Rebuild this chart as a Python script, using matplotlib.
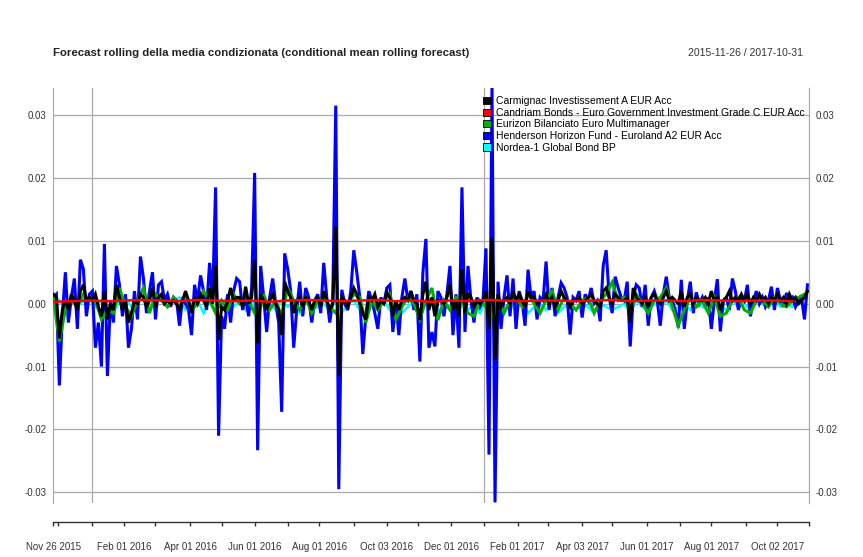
import numpy as np
import pandas as pd
import matplotlib
matplotlib.use("Agg")
import matplotlib.pyplot as plt
from matplotlib.patches import Patch

plt.rcParams['font.family'] = ['Liberation Sans', 'DejaVu Sans']

# Giorni di borsa del periodo (osservazioni equispaziate, stile xts)
date = pd.bdate_range("2015-11-26", "2017-10-31")

nomi = [
    "Carmignac Investissement A EUR Acc",
    "Candriam Bonds - Euro Government Investment Grade C EUR Acc",
    "Eurizon Bilanciato Euro Multimanager",
    "Henderson Horizon Fund - Euroland A2 EUR Acc",
    "Nordea-1 Global Bond BP",
]
colori = ["black", "red", "#00B000", "blue", "cyan"]

# valori in millesimi (x 1e-3)
# Henderson: un valore ogni 2 giorni
henderson = [
    1.0, 1.5, -13.0, -2.0, 5.0, -3.0, 1.0, 4.0, -4.0, 7.0,
    5.5, -2.0, 1.5, 2.0, -7.0, -3.0, -10.0, 9.5, -11.5, 0.5,
    -3.0, 6.0, 3.0, -2.0, 1.5, -7.0, -4.0, 2.0, -2.5, 7.5,
    4.0, -1.5, 2.0, 5.0, -2.5, 3.0, 3.5, 0.5, 1.5, -0.5,
    1.0, 0.5, -3.5, 1.0, 0.0, -1.0, -5.0, 3.0, 0.5, 4.5,
    2.0, -1.0, 6.5, 0.5, 18.5, -21.0, -2.0, -4.0, 1.5, -3.0,
    2.0, 4.0, 3.5, -1.0, 1.0, -2.0, 2.5, 20.8, -23.3, 6.0,
    1.0, -4.5, 1.0, 4.0, 0.0, -3.0, -17.2, 8.0, 5.5, 2.0,
    -7.0, -1.0, 3.5, -2.0, 2.5, 1.0, -3.0, 0.5, 1.5, -1.5,
    6.5, 1.0, -3.0, 0.5, 31.5, -29.5, 2.2, 0.0, -1.0, 2.0,
    8.5, 5.0, 1.0, -8.0, -2.0, 2.0, 0.5, -1.5, -4.0, 1.0,
    0.0, 2.5, 3.0, -4.5, 0.5, -5.0, 1.0, 4.0, 0.5, 2.0,
    -1.0, 1.5, -9.2, 5.0, 10.3, -7.0, -4.5, -6.8, 2.0, 1.0,
    -2.0, 1.5, 6.0, -5.0, 1.5, -7.0, 18.5, -4.5, 6.0, 0.5,
    -3.0, 1.0, -0.5, 0.5, 8.8, -24.0, 34.3, -31.6, 3.5, -4.0,
    1.0, 4.5, -2.0, 4.0, -4.0, 2.0, 0.5, -3.5, 5.4, 1.0,
    2.0, -2.5, 1.0, 0.5, 6.7, -1.0, 2.5, -2.0, 1.0, 3.3,
    2.5, 1.0, -4.9, 1.0, 0.5, 2.0, -2.2, 1.5, 0.5, 2.5,
    0.0, 0.5, -2.8, 6.0, 8.5, 1.0, -1.5, 4.3, 2.5, 1.0,
    0.5, 3.5, -6.8, 1.0, 3.0, 2.5, -0.5, 3.0, -3.5, 1.0,
    2.0, 0.5, -3.5, 1.5, 4.3, 1.0, 0.5, -1.0, -3.8, 3.8,
    -4.0, 0.5, 3.5, -1.5, 1.8, 0.0, 1.0, -0.5, 1.0, -4.0,
    0.5, 3.9, -4.4, 0.5, 1.0, -1.0, 4.0, 2.0, -1.0, 1.0,
    0.5, 3.0, -2.0, 0.5, 2.0, 0.0, 1.0, -0.5, 0.5, 2.7,
    -1.0, 2.5, 0.5, -0.5, 1.7, 0.5, 1.0, -0.5, 0.5, 1.0,
    -2.5, 3.0,
]

# Carmignac: un valore ogni 2 giorni
carmignac = [
    1.5, 1.0, -5.5, -1.0, 0.5, -1.0, 1.5, 0.5, -1.0, 2.0,
    3.0, 0.5, 1.0, 0.5, 1.5, -0.5, -2.0, 2.0, -2.5, 0.0,
    -1.0, 3.0, 1.0, -1.0, 0.5, -3.0, -1.5, 0.5, 0.0, 1.5,
    1.0, -0.5, 0.5, 2.5, -0.5, 1.0, 1.5, 0.0, 0.5, 0.0,
    0.5, 0.0, -1.0, 0.5, 2.0, 0.5, -1.5, 1.0, 0.0, 1.5,
    0.5, -0.5, 2.5, 0.0, 6.0, -5.8, -0.5, -1.0, 0.5, 2.5,
    0.5, 1.0, 1.0, -0.5, 2.7, 0.0, 1.0, 7.0, -6.3, 1.5,
    0.5, -1.0, 0.5, 1.5, 0.0, -1.0, -5.0, 3.5, 2.0, 1.0,
    -1.5, 0.5, 1.0, -0.5, 1.0, 0.5, -1.0, 0.5, 1.0, -0.5,
    2.0, 0.5, -1.0, 0.0, 12.2, -11.5, 1.0, 0.5, -0.5, 1.0,
    2.5, 1.5, 0.0, -1.5, -2.5, 1.0, 0.5, 1.5, -0.5, 0.5,
    0.0, 1.8, 1.0, -2.0, 0.5, -1.0, 0.5, 1.0, 0.5, 2.0,
    0.5, 0.0, -2.6, 1.5, 3.5, -1.0, 1.0, -2.0, 0.5, 0.5,
    0.0, 1.0, 3.0, -1.0, 0.5, -2.0, 5.5, -1.5, 1.5, 1.0,
    -0.5, 0.5, 0.0, 0.5, 2.0, -4.0, 10.5, -9.0, 1.5, -0.5,
    0.5, 1.0, 0.0, 2.0, 0.5, 1.5, 0.5, -0.5, 2.0, 1.0,
    1.0, 0.0, 0.5, 0.5, 1.5, 0.0, 1.0, -0.5, 0.5, 2.0,
    1.0, 0.5, -0.5, 0.5, 0.5, 1.0, 0.0, 0.5, 1.0, 1.5,
    0.5, 0.0, -0.5, 2.0, 2.5, 1.0, 0.0, 1.5, 1.0, 0.5,
    0.5, 1.0, -3.0, 2.5, 1.0, 0.5, 0.0, 1.0, -0.5, 1.0,
    1.5, 0.5, 0.0, 1.0, 2.0, 0.5, 1.0, 0.5, 0.0, 2.0,
    -0.5, 1.0, 1.5, 0.0, 1.0, 0.5, 0.5, 1.0, 0.0, 2.0,
    0.5, 1.0, -1.0, 0.5, 1.0, 2.0, 0.5, 1.0, 0.5, 1.5,
    0.5, 1.5, 0.0, 1.0, 0.5, 1.5, 0.5, 1.0, 0.0, 1.0,
    0.5, 1.5, 0.5, 1.0, 0.0, 1.5, 0.5, 1.0, 0.0, 0.5,
    1.0, 2.0,
]

# Eurizon: un valore ogni 4 giorni
eurizon = [
    1.0, -6.0, -1.0, 0.5, -0.5, 1.5, 0.5, 0.5, -2.5, -1.0,
    -1.5, 2.5, -0.5, -2.0, 0.5, 2.5, -1.5, 1.5, 0.5, -0.5,
    1.0, -0.5, 1.5, -1.0, 0.0, 2.0, 0.5, -1.5, 0.5, -1.0,
    1.5, 0.0, 1.0, -0.5, -2.5, 1.5, -1.0, 0.5, -2.0, 2.5,
    0.5, -1.0, 1.0, -1.5, 0.5, 1.0, -0.5, -1.5, 1.0, 0.0,
    1.5, 1.0, -3.0, 0.5, -1.0, 0.5, 1.5, -2.5, -0.5, 1.0,
    0.0, -2.5, 0.5, 2.5, -2.6, 0.5, -1.0, 1.0, 0.5, -1.5,
    -2.0, 0.5, -0.5, -2.0, 1.0, -1.5, 0.5, 1.0, -0.5, 1.5,
    0.0, -1.5, 0.5, 2.0, -1.0, 1.0, 0.0, -1.0, 0.5, 1.0,
    -1.5, 0.5, 1.5, 3.4, 0.5, 1.0, -1.0, 1.5, 0.0, -1.5,
    0.5, 1.0, 2.5, -0.5, -3.5, -1.0, 1.0, -0.5, 0.5, -1.5,
    1.0, -2.0, -1.5, 0.5, 1.0, -1.0, -1.5, 0.5, 0.5, -0.5,
    1.0, 0.0, -0.5, 0.5, 1.0, 1.5,
]

# Nordea: un valore ogni 4 giorni
nordea = [
    1.5, 0.5, -1.0, 1.0, -0.5, 0.5, 1.0, -0.5, 0.5, -1.0,
    -1.5, 0.5, 1.0, -0.5, 0.0, 1.0, -1.0, 0.5, 1.5, -0.5,
    0.5, 1.0, -1.0, 0.0, 0.5, -1.5, 0.5, -1.0, 0.0, 1.0,
    -0.5, 0.5, -1.0, 0.5, -1.5, 0.5, 0.0, -1.0, 0.5, -0.5,
    0.0, -1.5, 0.5, -1.0, -0.5, 0.0, -1.0, 0.5, -1.5, 0.0,
    0.5, -1.0, -1.5, 0.0, -0.5, 0.5, -1.0, 0.0, -1.5, -0.5,
    0.5, -1.0, 0.0, 1.0, -1.5, 0.0, -0.5, 1.0, -0.5, -1.0,
    0.0, -1.5, 0.5, -2.0, -0.5, -1.5, 0.0, -1.0, 0.5, -1.5,
    -0.5, 0.0, -1.0, 0.5, -1.5, -0.5, 0.0, -1.0, 0.0, -0.5,
    -1.5, 0.0, -0.5, -1.0, -0.5, 0.0, -1.5, 0.5, -0.5, -1.0,
    0.0, -0.5, 0.5, -1.0, -0.5, 0.0, -1.0, 0.5, -0.5, -1.0,
    0.0, -0.5, -1.0, 0.5, -0.5, 0.0, -1.0, 0.5, 0.0, -0.5,
    0.5, -0.5, 0.0, -0.5, 0.5, 0.0,
]

# Candriam: un valore ogni 12 giorni
candriam = [
    0.3, 0.4, 0.5, 0.4, 0.5, 0.6, 0.5, 0.4, 0.6, 0.5,
    0.4, 0.5, 0.3, 0.5, 0.6, 0.5, 0.4, 0.5, 0.6, 0.4,
    0.5, 0.3, 0.5, 0.4, 0.6, 0.5, 0.4, 0.5, 0.5, 0.4,
    0.5, 0.6, 0.4, 0.5, 0.5, 0.4, 0.6, 0.5, 0.4, 0.5,
    0.5, 0.4,
]

pos = np.arange(len(date))
serie = [
    (carmignac, 2, 2.2, 4),
    (candriam, 12, 1.8, 5),
    (eurizon, 4, 2.2, 3),
    (henderson, 2, 2.2, 2),
    (nordea, 4, 1.8, 1),
]

grigio = "#AAAAAA"
testo = "#333333"

fig = plt.figure(figsize=(8.63, 5.57), dpi=100)
ax = fig.add_axes([0.0618, 0.0969, 0.8756, 0.7451])

for (vals, passo, lw, z), col in zip(serie, colori):
    v = np.array(vals) / 1000
    x = pos[::passo][:len(v)]
    ax.plot(x, v, color=col, lw=lw, zorder=z, solid_joinstyle="miter")

ax.set_xlim(0, len(date) - 1)
ax.set_ylim(-0.0317, 0.0343)

# griglia orizzontale e tacche y (sinistra e destra)
yt = [-0.03, -0.02, -0.01, 0.0, 0.01, 0.02, 0.03]
ax.set_yticks(yt)
ax.set_yticklabels([f"{t:.2f}" for t in yt])
ax.tick_params(axis="y", length=0, labelsize=7, labelcolor=testo, pad=5,
               labelright=True)
for t in yt:
    ax.axhline(t, color=grigio, lw=0.9, zorder=0)

# tacche mensili, etichette ogni due mesi
inizio_mese = [0] + [i for i in range(1, len(date))
                     if date[i].month != date[i - 1].month]
etich = ["Nov 26 2015", "Feb 01 2016", "Apr 01 2016", "Jun 01 2016",
         "Aug 01 2016", "Oct 03 2016", "Dec 01 2016", "Feb 01 2017",
         "Apr 03 2017", "Jun 01 2017", "Aug 01 2017", "Oct 02 2017"]
tick_pos = inizio_mese + [len(date) - 1]
tick_lab = [date[i].strftime("%b %d %Y") if date[i].strftime("%b %d %Y") in etich
            else "" for i in inizio_mese] + [""]
ax.set_xticks(tick_pos)
ax.set_xticklabels(tick_lab)
ax.tick_params(axis="x", direction="out", length=3, width=1, color=testo,
               labelsize=7, labelcolor=testo, pad=11)

# linee verticali a inizio anno
for i in inizio_mese:
    if date[i].month == 1:
        ax.axvline(i, color=grigio, lw=0.9, zorder=0)

ax.spines["top"].set_visible(False)
for s in ["left", "right"]:
    ax.spines[s].set_color(grigio)
    ax.spines[s].set_linewidth(0.9)
ax.spines["bottom"].set_position(("outward", 14))
ax.spines["bottom"].set_color(testo)
ax.spines["bottom"].set_linewidth(1.0)

fig.text(0.0618, 0.904, "Forecast rolling della media condizionata (conditional mean rolling forecast)",
         fontsize=8.2, fontweight="bold", color="#222222", va="center", ha="left")
fig.text(0.930, 0.904, "2015-11-26 / 2017-10-31", fontsize=7.5, color=testo,
         va="center", ha="right")

maniglie = [Patch(facecolor=c, edgecolor="black", lw=0.6) for c in colori]
ax.legend(maniglie, nomi, loc="upper left", bbox_to_anchor=(0.569, 0.98),
          frameon=False, fontsize=7.5, handlelength=0.7, handleheight=0.7,
          handletextpad=0.5, labelspacing=0.15, borderpad=0, borderaxespad=0)

fig.savefig("out.png", dpi=100)
